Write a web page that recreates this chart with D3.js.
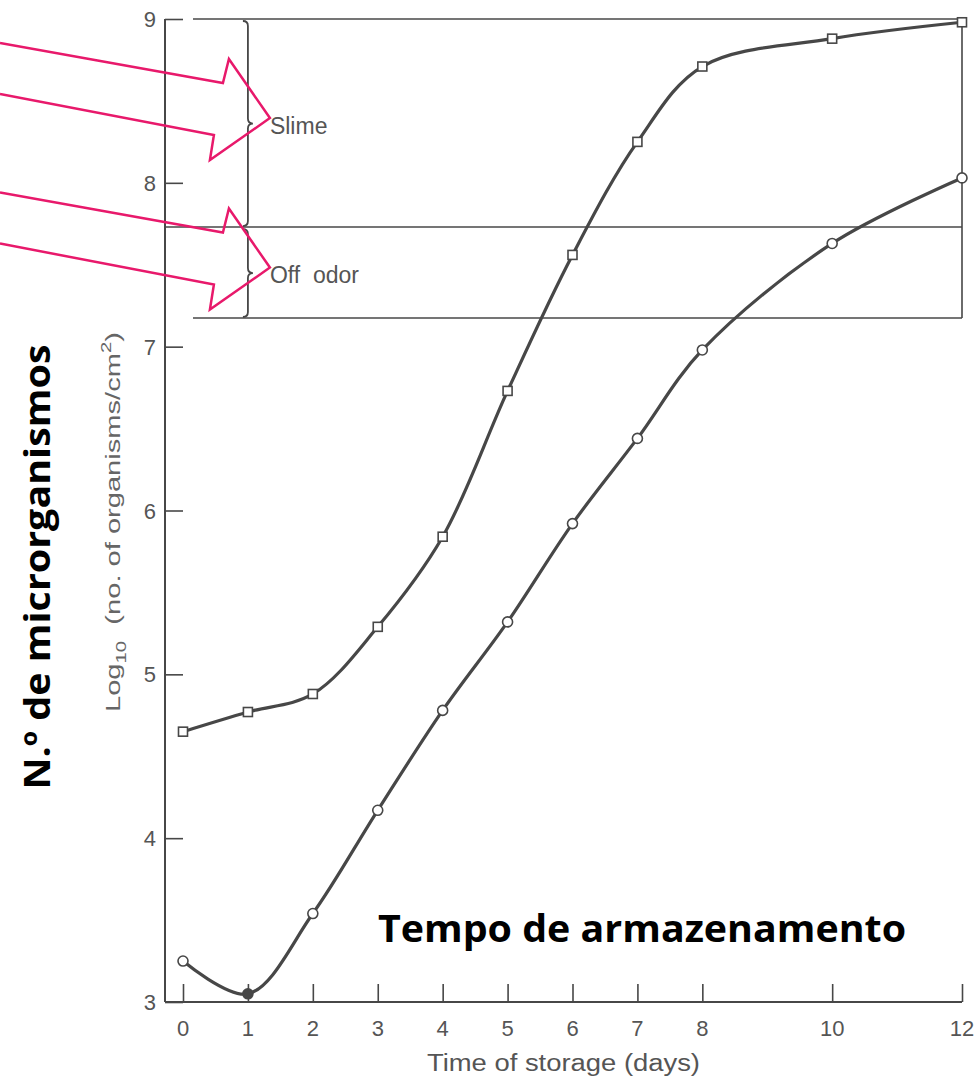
<!DOCTYPE html>
<html>
<head>
<meta charset="utf-8">
<script src="https://cdn.jsdelivr.net/npm/d3@7"></script>
<style>
html,body{margin:0;padding:0;background:#fff;}
svg{display:block;}
</style>
</head>
<body>
<svg id="chart" width="976" height="1076"></svg>
<script>
// ---- data ----
const days = [0, 1, 2, 3, 4, 5, 6, 7, 8, 10, 12];
const squareSeries = [4.65, 4.77, 4.88, 5.29, 5.84, 6.73, 7.56, 8.25, 8.71, 8.88, 8.98];
const circleSeries = [3.25, 3.05, 3.54, 4.17, 4.78, 5.32, 5.92, 6.44, 6.98, 7.63, 8.03];
const xTicks = [0, 1, 2, 3, 4, 5, 6, 7, 8, 10, 12];
const yTicks = [3, 4, 5, 6, 7, 8, 9];
const bandLevels = [9, 7.73, 7.175];
const bandLabels = ["Slime", "Off  odor"];

const svg = d3.select("#chart");
const ink = "#474747";
const pink = "#e8196b";
const sans = "Liberation Sans, Arial, sans-serif";

const x = d3.scaleLinear().domain([0, 12]).range([183, 962]);
const y = d3.scaleLinear().domain([3, 9]).range([1002, 19]);
const axisX = 165;

// axes frame
svg.append("line").attr("x1", axisX).attr("x2", axisX).attr("y1", y(9)).attr("y2", y(3))
  .attr("stroke", ink).attr("stroke-width", 2);
svg.append("line").attr("x1", axisX).attr("x2", x(12)).attr("y1", y(3)).attr("y2", y(3))
  .attr("stroke", ink).attr("stroke-width", 2);

// y ticks (inward)
const yAxis = d3.axisRight(y).tickValues(yTicks).tickSize(18).tickFormat("");
const gy = svg.append("g").attr("transform", `translate(${axisX},0)`).call(yAxis);
gy.select(".domain").remove();
gy.selectAll(".tick line").attr("stroke", ink).attr("stroke-width", 1.6);

svg.selectAll(".ylab").data(yTicks).join("text")
  .attr("x", 156).attr("y", d => y(d) + 8)
  .attr("text-anchor", "end").attr("fill", "#555")
  .attr("font-family", sans).attr("font-size", 22)
  .text(d => d);

// x ticks (upward)
const xAxis = d3.axisTop(x).tickValues(xTicks).tickSize(18).tickFormat("");
const gx = svg.append("g").attr("transform", `translate(0,${y(3)})`).call(xAxis);
gx.select(".domain").remove();
gx.selectAll(".tick line").attr("stroke", ink).attr("stroke-width", 1.6);

svg.selectAll(".xlab").data(xTicks).join("text")
  .attr("x", d => x(d)).attr("y", 1036)
  .attr("text-anchor", "middle").attr("fill", "#555")
  .attr("font-family", sans).attr("font-size", 22)
  .text(d => d);

// axis titles
svg.append("text").attr("x", 427).attr("y", 1071)
  .attr("fill", "#555").attr("font-family", sans)
  .attr("font-size", 23).attr("textLength", 273).attr("lengthAdjust", "spacingAndGlyphs")
  .text("Time of storage (days)");

const yt = svg.append("text").attr("transform", "translate(120,712) rotate(-90)")
  .attr("text-anchor", "start").attr("fill", "#666")
  .attr("font-family", sans).attr("font-size", 20);
yt.append("tspan").text("Log");
yt.append("tspan").attr("font-size", 14).attr("dy", 6).text("10");
yt.append("tspan").attr("dy", -6).attr("xml:space", "preserve").text("  (no. of organisms/cm");
yt.append("tspan").attr("font-size", 14).attr("dy", -9).text("2");
yt.append("tspan").attr("dy", 9).text(")");
yt.attr("textLength", 380).attr("lengthAdjust", "spacingAndGlyphs");

// band lines
svg.append("line").attr("x1", 193).attr("x2", x(12)).attr("y1", y(bandLevels[0])).attr("y2", y(bandLevels[0]))
  .attr("stroke", ink).attr("stroke-width", 1.6);
svg.append("line").attr("x1", axisX).attr("x2", x(12)).attr("y1", y(bandLevels[1])).attr("y2", y(bandLevels[1]))
  .attr("stroke", ink).attr("stroke-width", 1.6);
svg.append("line").attr("x1", 193).attr("x2", x(12)).attr("y1", y(bandLevels[2])).attr("y2", y(bandLevels[2]))
  .attr("stroke", ink).attr("stroke-width", 1.6);
svg.append("line").attr("x1", x(12)).attr("x2", x(12)).attr("y1", y(bandLevels[0])).attr("y2", y(bandLevels[2]))
  .attr("stroke", ink).attr("stroke-width", 1.6);

// braces
function brace(top, bot, bx) {
  const mid = (top + bot) / 2;
  const r = 5;
  return `M${bx - r},${top} Q${bx},${top} ${bx},${top + r} L${bx},${mid - r} Q${bx},${mid} ${bx + r},${mid} Q${bx},${mid} ${bx},${mid + r} L${bx},${bot - r} Q${bx},${bot} ${bx - r},${bot}`;
}
const bx = x(1);
[[0, 1], [1, 2]].forEach(([a, b], i) => {
  const t = y(bandLevels[a]) + 2, bt = y(bandLevels[b]) - 1;
  svg.append("path").attr("d", brace(t, bt, bx)).attr("fill", "none")
    .attr("stroke", ink).attr("stroke-width", 1.8);
  svg.append("text").attr("x", bx + 22).attr("y", (t + bt) / 2 + 10)
    .attr("fill", "#555").attr("font-family", sans)
    .attr("font-size", 23).attr("xml:space", "preserve").text(bandLabels[i]);
});

// curves
const line = d3.line().x(d => x(d[0])).y(d => y(d[1])).curve(d3.curveCatmullRom.alpha(0.5));
const sq = days.map((d, i) => [d, squareSeries[i]]);
const ci = days.map((d, i) => [d, circleSeries[i]]);
[sq, ci].forEach(s => svg.append("path").attr("d", line(s)).attr("fill", "none")
  .attr("stroke", ink).attr("stroke-width", 3.2));

svg.selectAll(".sq").data(sq).join("rect")
  .attr("x", d => x(d[0]) - 4.5).attr("y", d => y(d[1]) - 4.5)
  .attr("width", 9).attr("height", 9)
  .attr("fill", "#fff").attr("stroke", ink).attr("stroke-width", 1.6);
svg.selectAll(".ci").data(ci).join("circle")
  .attr("cx", d => x(d[0])).attr("cy", d => y(d[1])).attr("r", 5)
  .attr("fill", (d, i) => i === 1 ? ink : "#fff").attr("stroke", ink).attr("stroke-width", 1.6);

// pink hollow arrows pointing to the brace tips
function arrowPts(tipX, tipY) {
  return [
    [0, tipY - 75], [tipX - 47, tipY - 35], [tipX - 41, tipY - 59],
    [tipX, tipY], [tipX - 60, tipY + 42], [tipX - 56, tipY + 17], [0, tipY - 24]
  ];
}
[[0, 1], [1, 2]].forEach(([a, b]) => {
  const tipY = (y(bandLevels[a]) + y(bandLevels[b])) / 2 - 5;
  const pts = arrowPts(bx + 22, tipY);
  svg.append("path").attr("d", d3.line()(pts)).attr("fill", "none")
    .attr("stroke", pink).attr("stroke-width", 2.5).attr("stroke-linejoin", "miter");
});

// bold Portuguese annotations
svg.append("text").attr("transform", "translate(50,567) rotate(-90)")
  .attr("text-anchor", "middle").attr("fill", "#000")
  .attr("font-family", "Open Sans, Lato, sans-serif").attr("font-weight", "bold")
  .attr("font-size", 35).attr("textLength", 445).attr("lengthAdjust", "spacingAndGlyphs")
  .text("N.º de microrganismos");
svg.append("text").attr("x", 378).attr("y", 942)
  .attr("fill", "#000")
  .attr("font-family", "Open Sans, Lato, sans-serif").attr("font-weight", "bold")
  .attr("font-size", 38).attr("textLength", 528).attr("lengthAdjust", "spacingAndGlyphs")
  .text("Tempo de armazenamento");
</script>
</body>
</html>
